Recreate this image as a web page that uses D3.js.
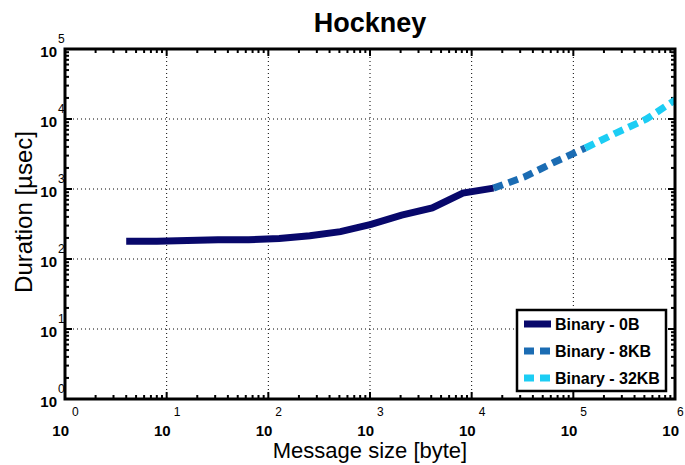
<!DOCTYPE html>
<html>
<head>
<meta charset="utf-8">
<script src="https://cdn.jsdelivr.net/npm/d3@7"></script>
<style>
  html, body { margin: 0; padding: 0; background: #fff; }
  svg { display: block; font-family: "Liberation Sans", Arial, Helvetica, sans-serif; }
</style>
</head>
<body>
<svg id="chart" width="685" height="465"></svg>
<script>
// Message sizes (bytes) and measured durations (µsec) for each series
const sizes0B  = [4, 8, 16, 32, 64, 128, 256, 512, 1024, 2048, 4096, 8192, 16384];
const dur0B    = [180, 180, 184, 188, 188, 197, 215, 246, 313, 424, 535, 874, 1030];
const sizes8KB = [16384, 32768, 65536, 131072];
const dur8KB   = [1030, 1480, 2430, 3850];
const sizes32KB = [131072, 262144, 524288, 1048576];
const dur32KB   = [3850, 6300, 10000, 19500];

const seriesNames = ["Binary - 0B", "Binary - 8KB", "Binary - 32KB"];
const xExponents = [0, 1, 2, 3, 4, 5, 6];
const yExponents = [0, 1, 2, 3, 4, 5];

const W = 685, H = 465;
const margin = { left: 65, right: 10, top: 49, bottom: 66 };
const pw = W - margin.left - margin.right;
const ph = H - margin.top - margin.bottom;

const svg = d3.select("#chart");
const x = d3.scaleLog().domain([1, 1e6]).range([0, pw]);
const y = d3.scaleLog().domain([1, 1e5]).range([ph, 0]);

const g = svg.append("g").attr("transform", `translate(${margin.left},${margin.top})`);

g.append("defs").append("clipPath").attr("id", "plotClip")
  .append("rect").attr("width", pw).attr("height", ph);

// Dotted decade grid
const grid = g.append("g").attr("stroke", "#000").attr("stroke-width", 1)
  .attr("stroke-dasharray", "1,3");
xExponents.slice(1, -1).forEach(e => {
  grid.append("line").attr("x1", x(10 ** e)).attr("x2", x(10 ** e))
    .attr("y1", 0).attr("y2", ph);
});
yExponents.slice(1, -1).forEach(e => {
  grid.append("line").attr("y1", y(10 ** e)).attr("y2", y(10 ** e))
    .attr("x1", 0).attr("x2", pw);
});

// Log ticks on all four sides, pointing inward
const xTicks = x.ticks();
const yTicks = y.ticks();
const isMajor = v => Math.abs(Math.log10(v) - Math.round(Math.log10(v))) < 1e-9;
const ticksG = g.append("g").attr("stroke", "#000").attr("stroke-width", 2);
xTicks.forEach(v => {
  const len = isMajor(v) ? 7 : 4;
  ticksG.append("line").attr("x1", x(v)).attr("x2", x(v)).attr("y1", ph).attr("y2", ph - len);
  ticksG.append("line").attr("x1", x(v)).attr("x2", x(v)).attr("y1", 0).attr("y2", len);
});
yTicks.forEach(v => {
  const len = isMajor(v) ? 7 : 4;
  ticksG.append("line").attr("y1", y(v)).attr("y2", y(v)).attr("x1", 0).attr("x2", len);
  ticksG.append("line").attr("y1", y(v)).attr("y2", y(v)).attr("x1", pw).attr("x2", pw - len);
});

// Series lines
const line = d3.line().x(d => x(d[0])).y(d => y(d[1]));
const series = [
  { xs: sizes0B,   ys: dur0B,   color: "#08086b", dash: null },
  { xs: sizes8KB,  ys: dur8KB,  color: "#1b6cb3", dash: "10,6" },
  { xs: sizes32KB, ys: dur32KB, color: "#1ccdf4", dash: "10,6" }
];
const lines = g.append("g").attr("clip-path", "url(#plotClip)");
series.forEach(s => {
  lines.append("path")
    .datum(d3.zip(s.xs, s.ys))
    .attr("d", line)
    .attr("fill", "none")
    .attr("stroke", s.color)
    .attr("stroke-width", 7)
    .attr("stroke-dasharray", s.dash);
});

// Plot frame
g.append("rect").attr("width", pw).attr("height", ph)
  .attr("fill", "none").attr("stroke", "#000").attr("stroke-width", 3);

// Tick labels: "10" with raised exponent
xExponents.forEach(e => {
  const px = x(10 ** e);
  g.append("text").attr("x", px + 4).attr("y", ph + 37)
    .attr("text-anchor", "end").attr("font-size", 15).attr("font-weight", "bold")
    .text("10");
  g.append("text").attr("x", Math.min(px + 7, pw + 2)).attr("y", ph + 17)
    .attr("font-size", 12).text(e);
});
yExponents.forEach(e => {
  const py = y(10 ** e);
  g.append("text").attr("x", -8).attr("y", py + 8)
    .attr("text-anchor", "end").attr("font-size", 15).attr("font-weight", "bold")
    .text("10");
  g.append("text").attr("x", -7).attr("y", py - 6)
    .attr("font-size", 12).text(e);
});

// Title and axis titles
svg.append("text").attr("x", margin.left + pw / 2).attr("y", 32)
  .attr("text-anchor", "middle").attr("font-size", 27).attr("font-weight", "bold")
  .text("Hockney");
svg.append("text").attr("x", margin.left + pw / 2).attr("y", 458)
  .attr("text-anchor", "middle").attr("font-size", 22)
  .text("Message size [byte]");
svg.append("text")
  .attr("transform", `translate(32,${margin.top + ph / 2 - 12}) rotate(-90)`)
  .attr("text-anchor", "middle").attr("font-size", 24)
  .text("Duration [µsec]");

// Legend
const legend = svg.append("g").attr("transform", "translate(517,310)");
legend.append("rect").attr("width", 149).attr("height", 81)
  .attr("fill", "#fff").attr("stroke", "#000").attr("stroke-width", 2.5);
series.forEach((s, i) => {
  const ly = 14 + i * 27;
  legend.append("line").attr("x1", 7).attr("x2", 34).attr("y1", ly).attr("y2", ly)
    .attr("stroke", s.color).attr("stroke-width", 7)
    .attr("stroke-dasharray", s.dash);
  legend.append("text").attr("x", 38).attr("y", ly + 6)
    .attr("font-size", 16).attr("font-weight", "bold")
    .text(seriesNames[i]);
});
</script>
</body>
</html>
